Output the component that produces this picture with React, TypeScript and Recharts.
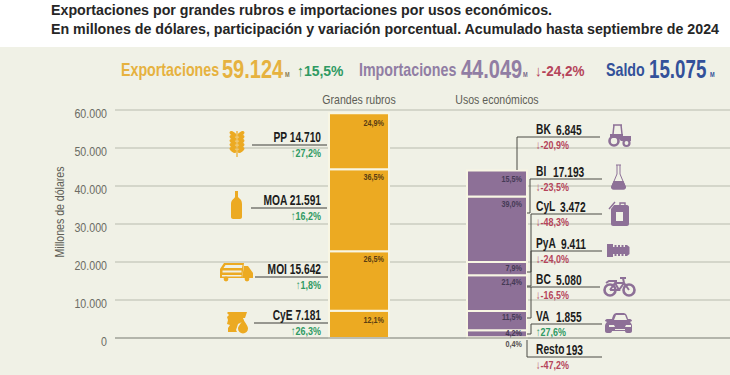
import { Bar, BarChart, CartesianGrid, LabelList, ReferenceLine, XAxis, YAxis } from "recharts";

const groups = ["Grandes rubros", "Usos económicos"];
const yTicks = [0, 10000, 20000, 30000, 40000, 50000, 60000];

// stacked bottom to top
const expNames = ["CyE", "MOI", "MOA", "PP"];
const expValues = [7181, 15642, 21591, 14710];
const expShares = ["12,1%", "26,5%", "36,5%", "24,9%"];
const expChanges = [26.3, 1.8, 16.2, 27.2];

const impNames = ["Resto", "VA", "BC", "PyA", "CyL", "BI", "BK"];
const impValues = [193, 1855, 5080, 9411, 3472, 17193, 6845];
const impShares = ["0,4%", "4,2%", "11,5%", "21,4%", "7,9%", "39,0%", "15,5%"];
const impChanges = [-47.2, 27.6, -16.5, -24.0, -48.3, -23.5, -20.9];

const ORANGE = "#ecaa22";
const PURPLE = "#8d7097";
const GREEN = "#2f9a63";
const RED = "#b5445a";
const FONT = "'Liberation Sans', Arial, sans-serif";

const row0: Record<string, any> = { name: groups[0] };
expNames.forEach((n, i) => (row0[n] = expValues[i]));
const row1: Record<string, any> = { name: groups[1] };
impNames.forEach((n, i) => (row1[n] = impValues[i]));
const table = [row0, row1];

const fmt = (v: number) => String(v).replace(/\B(?=(\d{3})+$)/g, ".");
const pct = (v: number) => (v > 0 ? "↑" : "↓-") + Math.abs(v).toFixed(1).replace(".", ",") + "%";

// where the callouts sit: line y, x range, value x
const expCallouts: Record<string, number[]> = {
  PP: [145, 252, 327],
  MOA: [208, 251, 327],
  MOI: [277, 255, 328],
  CyE: [323, 254, 328],
};
const impCallouts: Record<string, number[]> = {
  BK: [137, 517, 600, 556],
  BI: [179, 530, 602, 553],
  CyL: [214, 531, 602, 560],
  PyA: [251, 531, 602, 561],
  BC: [287, 527, 600, 556],
  VA: [324, 531, 602, 556],
  Resto: [357, 527, 602, 566],
};
// leader lines from the line down to the bar
const leaders = [
  "M517 137V170",
  "M530 179V213H527",
  "M531 214V272H527",
  "M531 251V286H527",
  "M531 287V318H527",
  "M531 324V334H527",
  "M527 340V357",
];
const labelDy: Record<string, number> = {
  PP: 13, MOA: 11, MOI: 11, CyE: 12, BK: 11, BI: 10, CyL: 9, PyA: 10, BC: 9, VA: 6, Resto: 10,
};

// the reference uses a condensed face, so squeeze Liberation Sans
function T({ x, y, sx = 0.8, rot, anchor, size, bold, fill, children }: any) {
  const tr = `translate(${x} ${y})${rot ? ` rotate(${rot})` : ""} scale(${sx} 1)`;
  return (
    <text transform={tr} textAnchor={anchor} fontSize={size} fontWeight={bold ? 700 : 400} fontFamily={FONT} fill={fill}>
      {children}
    </text>
  );
}

function shareLabel(name: string, share: string, fill: string) {
  return (p: any) => {
    if (!p.value) return null;
    return (
      <T x={p.x + p.width - 5} y={p.y + labelDy[name]} sx={0.85} anchor="end" size={8.5} bold fill={fill}>
        {share}
      </T>
    );
  };
}

const YTick = ({ x, y, payload }: any) => (
  <T x={x} y={y + 8} sx={0.82} anchor="end" size={13} fill="#6c6c64">{fmt(payload.value)}</T>
);
const XTick = ({ x, y, payload }: any) => (
  <T x={x} y={y + 2} sx={0.88} anchor="middle" size={12} fill="#5e5e56">{payload.value}</T>
);

function Icons() {
  return (
    <g>
      {/* wheat */}
      <g fill={ORANGE} stroke={ORANGE}>
        <path d="M237 131V157" strokeWidth={1.2} />
        {[134, 138, 142, 146, 150].map((y) => (
          <g key={y}>
            <ellipse cx={233} cy={y} rx={3.4} ry={1.5} transform={`rotate(35 233 ${y})`} />
            <ellipse cx={241} cy={y} rx={3.4} ry={1.5} transform={`rotate(-35 241 ${y})`} />
          </g>
        ))}
      </g>
      {/* bottle */}
      <path d="M235 191h3v6c2 2 4 3 4 7v13c0 1-1 2-2 2h-7c-1 0-2-1-2-2v-13c0-4 3-5 4-7z" fill={ORANGE} />
      {/* truck */}
      <g fill={ORANGE}>
        <path d="M224 263h20l-2 15h-22v-9zM225.500 265l-2 3h18.500l.5-3zM222.500 270.500v2h19v-2zM222 275v1.500h19.500v-1.500z" fillRule="evenodd" />
        <path d="M244 266h4l5 7v5h-11z" />
        <circle cx={226} cy={279} r={2.4} />
        <circle cx={247} cy={279} r={2.4} />
      </g>
      {/* oil */}
      <g fill={ORANGE}>
        <path d="M228 312h19l-2 6h-2l1 3-6 3-2 6 1 2h-9v-4l2-3-3-1 1-4-1-3 2-2-2-2z" />
        <path d="M243 319c3 5 5 7 5 9.500a5 5 0 0 1-10 0c0-2.500 3-4.500 5-9.500z" />
      </g>
      {/* tractor */}
      <g fill="none" stroke={PURPLE}>
        <path d="M613 125h9M614 125l-1 9M621 125l1 9" strokeWidth={1.5} />
        <path d="M610 134h13v2h8v5h-10l-3-3h-8z" fill={PURPLE} stroke="none" />
        <circle cx={614} cy={141} r={4.5} strokeWidth={2.6} />
        <circle cx={626.500} cy={143} r={3} strokeWidth={2.2} />
      </g>
      {/* flask */}
      <path d="M616 165h5M617 165v9l-5 12c-1 2 0 3 2 3h9c2 0 3-1 2-3l-5-12v-9" fill="none" stroke={PURPLE} strokeWidth={1} />
      <path d="M613.500 181h10l2.500 6c0 1.500-1 2.500-2 2.500h-11c-1 0-2-1-2-2.500z" fill={PURPLE} />
      {/* jerry can */}
      <path d="M614 205h13c1 0 2 1 2 2v17c0 1-1 2-2 2h-14c-1 0-2-1-2-2v-15zM616 212v9h7v-9z" fill={PURPLE} fillRule="evenodd" />
      <path d="M609 209l6-7M620 205v-2h5v2" stroke={PURPLE} strokeWidth={1.4} fill="none" />
      {/* screw */}
      <path d="M607 244h6v3h1.500v-2h2v2h1.500v-2h2v2h1.500v-2h2v2h1.500v-2h2l2.500 2v7l-2.500 2h-2v-2h-1.500v2h-2v-2h-1.500v2h-2v-2h-1.500v2h-2v-2h-1.500v3h-6z" fill={PURPLE} />
      {/* bike */}
      <g fill="none" stroke={PURPLE}>
        <circle cx={610} cy={290} r={5.500} strokeWidth={2.6} />
        <circle cx={629} cy={290} r={5.500} strokeWidth={2.6} />
        <path d="M610 290l5-7h9l5 7M615 283l4 7h-9M619 290l5-7M623 278l1 5M620 278h6M606 283l3-2h8" strokeWidth={2} />
      </g>
      {/* car */}
      <path d="M612 319c1-4 2-6 5-6h6c3 0 4 2 5 6h2c1 0 2 1 2 2l-2 1c1 1 2 2 2 4v5c0 1-1 2-2 2h-3c-1 0-2-1-2-2h-13c0 1-1 2-2 2h-3c-1 0-2-1-2-2v-5c0-2 1-3 2-4l-2-1c0-1 1-2 2-2zM614 320h13l-2-5h-9zM609 325v2h6l-1-2zM631 325h-5l-1 2h6zM615 329v1h10v-1z" fill={PURPLE} fillRule="evenodd" />
    </g>
  );
}

function Overlay() {
  return (
    <svg width={730} height={375} style={{ position: "absolute", left: 0, top: 0 }}>
      <g fontFamily={FONT} fontWeight={700} fontSize={14} fill="#262626">
        <text x={51} y={15} textLength={501} lengthAdjust="spacingAndGlyphs">Exportaciones por grandes rubros e importaciones por usos económicos.</text>
        <text x={51} y={34} textLength={668} lengthAdjust="spacingAndGlyphs">En millones de dólares, participación y variación porcentual. Acumulado hasta septiembre de 2024</text>
      </g>

      <T x={121} y={76} sx={0.75} size={19} bold fill="#e6b23f">Exportaciones</T>
      <T x={222} y={78} sx={0.8} size={25} bold fill="#e6b23f">59.124</T>
      <T x={285} y={77} sx={0.8} size={7} bold fill="#8a7a50">M</T>
      <T x={297} y={76} sx={0.93} size={15} bold fill={GREEN}>↑15,5%</T>
      <T x={359} y={76} sx={0.75} size={19} bold fill="#917ea4">Importaciones</T>
      <T x={461} y={78} sx={0.8} size={25} bold fill="#917ea4">44.049</T>
      <T x={523} y={77} sx={0.8} size={7} bold fill="#75688a">M</T>
      <T x={535} y={76} sx={0.9} size={15} bold fill={RED}>↓-24,2%</T>
      <T x={606} y={76} sx={0.75} size={19} bold fill="#33519a">Saldo</T>
      <T x={649} y={78} sx={0.75} size={25} bold fill="#33519a">15.075</T>
      <T x={710} y={77} sx={0.8} size={7} bold fill="#33519a">M</T>

      <T x={64} y={212} rot={-90} sx={0.88} anchor="middle" size={12} fill="#5e5e56">Millones de dólares</T>

      {expNames.map((n, i) => {
        const [y, x1, x2] = expCallouts[n];
        return (
          <g key={n}>
            <line x1={x1} x2={x2} y1={y} y2={y} stroke="#3c3c38" strokeWidth={1} />
            <T x={321} y={y - 3} sx={0.73} anchor="end" size={14} bold fill="#1c1c1c">{n + " " + fmt(expValues[i])}</T>
            <T x={321} y={y + 12} sx={0.78} anchor="end" size={11.5} bold fill={GREEN}>{pct(expChanges[i])}</T>
          </g>
        );
      })}
      {impNames.map((n, i) => {
        const [y, x1, x2, vx] = impCallouts[n];
        return (
          <g key={n}>
            <line x1={x1} x2={x2} y1={y} y2={y} stroke="#4a4a44" strokeWidth={1} />
            <T x={536} y={y - 3} sx={0.73} size={14} bold fill="#1c1c1c">{n}</T>
            <T x={vx} y={y - 2} sx={0.73} size={14} bold fill="#1c1c1c">{fmt(impValues[i])}</T>
            <T x={536} y={y + 12} sx={0.78} size={11.5} bold fill={impChanges[i] > 0 ? GREEN : RED}>{pct(impChanges[i])}</T>
          </g>
        );
      })}
      <g fill="none" stroke="#4a4a44" strokeWidth={1}>
        {leaders.map((d) => (
          <path key={d} d={d} />
        ))}
      </g>
      <Icons />
    </svg>
  );
}

export default function App() {
  return (
    <div style={{ position: "absolute", left: 0, top: 0, width: 730, height: 375, background: "#fff", overflow: "hidden" }}>
      <div style={{ position: "absolute", left: 0, top: 47, width: 730, height: 328, background: "#f0f1e6" }} />
      <div style={{ position: "absolute", left: 0, top: 0 }}>
        <BarChart width={730} height={375} data={table} barSize={60} margin={{ top: 90, right: 0, bottom: 37, left: 55 }}>
          <CartesianGrid vertical={false} stroke="#cbccc0" strokeWidth={1.5} />
          <XAxis
            dataKey="name"
            orientation="top"
            height={20}
            padding={{ left: 175, right: 164 }}
            axisLine={false}
            tickLine={false}
            interval={0}
            tick={<XTick />}
          />
          <YAxis
            width={60}
            domain={[0, 60000]}
            ticks={yTicks}
            interval={0}
            axisLine={false}
            tickLine={false}
            tickMargin={2}
            tick={<YTick />}
          />
          <ReferenceLine y={0} stroke="#a9aaa0" strokeWidth={1.5} />
          {expNames.map((n, i) => (
            <Bar key={n} dataKey={n} stackId="a" fill={ORANGE} stroke="#f8f6e4" strokeWidth={2} isAnimationActive={false}>
              <LabelList dataKey={n} content={shareLabel(n, expShares[i], "#5a3d12")} />
            </Bar>
          ))}
          {impNames.map((n, i) => (
            <Bar key={n} dataKey={n} stackId="a" fill={PURPLE} stroke="#f8f6e4" strokeWidth={2} isAnimationActive={false}>
              <LabelList dataKey={n} content={shareLabel(n, impShares[i], n === "Resto" ? "#55504f" : "#453a55")} />
            </Bar>
          ))}
        </BarChart>
      </div>
      <Overlay />
    </div>
  );
}
